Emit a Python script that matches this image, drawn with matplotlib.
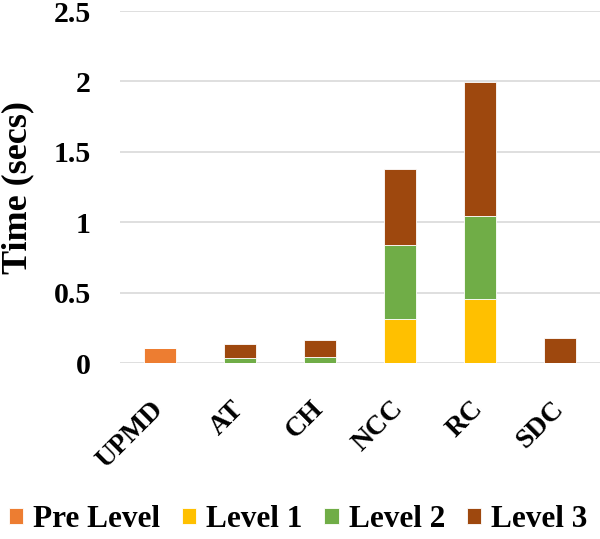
import matplotlib
matplotlib.use("Agg")
import matplotlib.pyplot as plt
import matplotlib.transforms as mtransforms
import numpy as np

categories = ["UPMD", "AT", "CH", "NCC", "RC", "SDC"]
pre_level = [0.105, 0, 0, 0, 0, 0]
level1 = [0, 0, 0, 0.313, 0.456, 0]
level2 = [0, 0.038, 0.043, 0.527, 0.59, 0]
level3 = [0, 0.10, 0.12, 0.535, 0.953, 0.178]
series_names = ["Pre Level", "Level 1", "Level 2", "Level 3"]
colors = ["#ED7D31", "#FFC000", "#70AD47", "#9E480E"]

plt.rcParams['font.family'] = ['Liberation Serif', 'DejaVu Serif']
plt.rcParams['font.weight'] = 'bold'

fig = plt.figure(figsize=(6, 5.39), dpi=100)
ax = fig.add_axes([0.2, 0.3265, 0.8, 0.653])

x = np.arange(len(categories))
bottom = np.zeros(len(categories))
for name, vals, c in zip(series_names, [pre_level, level1, level2, level3], colors):
    vals = np.array(vals)
    ax.bar(x, vals, 0.4, bottom=bottom, color=c, label=name, zorder=3,
           edgecolor='white', linewidth=0.6)
    bottom += vals

ax.set_xlim(-0.5, len(categories) - 0.5)
ax.set_ylim(0, 2.5)
ax.set_yticks([0, 0.5, 1, 1.5, 2, 2.5])
ax.set_yticklabels(["0", "0.5", "1", "1.5", "2", "2.5"], fontsize=21.5, fontweight='bold')
ax.set_xticks(x)
ax.set_xticklabels(categories, rotation=45, ha='right', rotation_mode='anchor',
                   fontsize=20, fontweight='bold')
ax.tick_params(axis='both', length=0)
ax.tick_params(axis='y', pad=21)
ax.tick_params(axis='x', pad=24)
shift = mtransforms.ScaledTranslation(-9 / 100, 0, fig.dpi_scale_trans)
for lab in ax.get_xticklabels():
    lab.set_transform(lab.get_transform() + shift)
ax.grid(axis='y', color='#d9d9d9', linewidth=1.2, zorder=0)
for s in ax.spines.values():
    s.set_visible(False)

fig.text(0.002, 0.652, "Time (secs)", rotation=90, ha='left', va='center',
         fontsize=26, fontweight='bold')

fig.legend(loc='lower center', bbox_to_anchor=(0.497, -0.043), ncol=4, frameon=False,
           prop={'size': 22.5, 'weight': 'bold'}, handlelength=0.45, handleheight=0.45,
           handletextpad=0.32, columnspacing=0.7)

fig.savefig("out.png", dpi=100)
